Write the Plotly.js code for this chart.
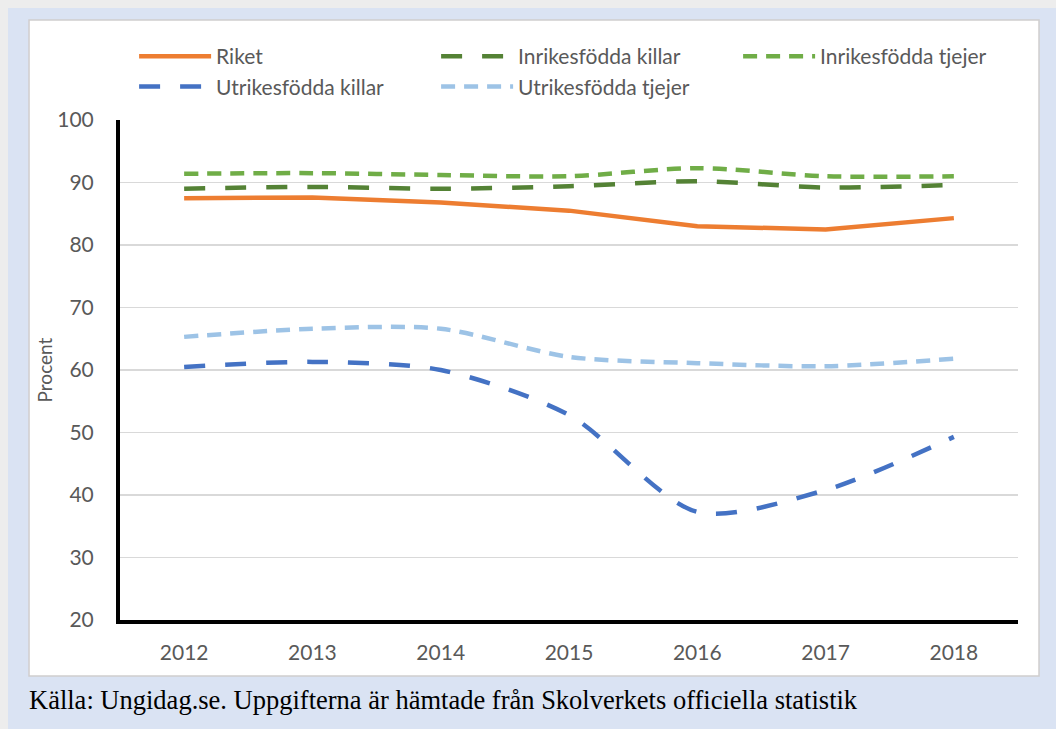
<!DOCTYPE html>
<html>
<head>
<meta charset="utf-8">
<script src="https://cdn.plot.ly/plotly-3.0.1.min.js"></script>
<style>
html,body{margin:0;padding:0;background:#EDEDED;}
#chart{width:1056px;height:729px;}
</style>
</head>
<body>
<div id="chart"></div>
<script>
const years = ['2012','2013','2014','2015','2016','2017','2018'];
const riket = [87.5, 87.6, 86.8, 85.5, 83.0, 82.5, 84.3];
const inrikesKillar = [89.0, 89.3, 89.0, 89.4, 90.2, 89.2, 89.6];
const inrikesTjejer = [91.4, 91.5, 91.2, 91.0, 92.3, 91.0, 91.0];
const utrikesKillar = [60.5, 61.3, 60.0, 52.8, 37.3, 40.8, 49.3];
const utrikesTjejer = [65.3, 66.6, 66.6, 62.1, 61.1, 60.6, 61.8];
const yTicks = [20, 30, 40, 50, 60, 70, 80, 90, 100];
const caption = 'Källa: Ungidag.se. Uppgifterna är hämtade från Skolverkets officiella statistik';

const FONT = 'Lato, "Open Sans", sans-serif';
const GREY = '#595959';

const traces = [
  {name:'Riket', x:years, y:riket, mode:'lines',
   line:{color:'#ED7D31', width:4.5, shape:'linear'}},
  {name:'Inrikesfödda killar', x:years, y:inrikesKillar, mode:'lines',
   line:{color:'#548235', width:4.5, dash:'21px,20px', shape:'spline', smoothing:0.8}},
  {name:'Inrikesfödda tjejer', x:years, y:inrikesTjejer, mode:'lines',
   line:{color:'#70AD47', width:4.5, dash:'14px,9px', shape:'spline', smoothing:0.8}},
  {name:'Utrikesfödda killar', x:years, y:utrikesKillar, mode:'lines',
   line:{color:'#4472C4', width:4.5, dash:'21px,20px', shape:'spline', smoothing:0.8}},
  {name:'Utrikesfödda tjejer', x:years, y:utrikesTjejer, mode:'lines',
   line:{color:'#9DC3E6', width:4.5, dash:'14px,9px', shape:'spline', smoothing:0.8}}
];

const layout = {
  width:1056, height:729,
  margin:{l:120, r:38, t:120, b:109, pad:0},
  paper_bgcolor:'#EDEDED',
  plot_bgcolor:'rgba(0,0,0,0)',
  font:{family:FONT, color:GREY, size:20},
  showlegend:true,
  legend:{
    orientation:'h', x:-0.001, xanchor:'left', y:1.198, yanchor:'top',
    borderwidth:15, bordercolor:'rgba(0,0,0,0)',
    entrywidth:215, entrywidthmode:'pixels', itemwidth:72,
    font:{family:FONT, size:21, color:GREY},
    bgcolor:'rgba(0,0,0,0)', traceorder:'normal'
  },
  xaxis:{
    type:'category', range:[-0.5, 6.5],
    showline:true, linecolor:'#000000', linewidth:4,
    showgrid:false, zeroline:false, ticks:'',
    tickfont:{family:FONT, size:21, color:GREY},
    ticklabelstandoff:11
  },
  yaxis:{
    range:[20, 100], tickvals:yTicks,
    showline:true, linecolor:'#000000', linewidth:4,
    showgrid:true, gridcolor:'#D9D9D9', gridwidth:1.5,
    zeroline:false, ticks:'',
    tickfont:{family:FONT, size:21, color:GREY},
    ticklabelstandoff:18,
    title:{text:'Procent', font:{family:FONT, size:19, color:GREY}, standoff:1}
  },
  shapes:[
    {type:'rect', xref:'paper', yref:'paper', x0:-0.1247, x1:1.06, y0:-0.25, y1:1.224,
     fillcolor:'#DAE3F3', line:{width:0}, layer:'below'},
    {type:'rect', xref:'paper', yref:'paper', x0:-0.1013, x1:1.0234, y0:-0.112, y1:1.2,
     fillcolor:'#FFFFFF', line:{color:'#D0CECE', width:1.5}, layer:'below'}
  ],
  annotations:[
    {text:caption, xref:'paper', yref:'paper', x:-0.1035, xanchor:'left', y:-0.16, yanchor:'middle',
     showarrow:false, font:{family:'"Liberation Serif", "Times New Roman", serif', size:26.5, color:'#000000'}}
  ]
};

Plotly.newPlot('chart', traces, layout, {displayModeBar:false, staticPlot:true});
</script>
</body>
</html>
